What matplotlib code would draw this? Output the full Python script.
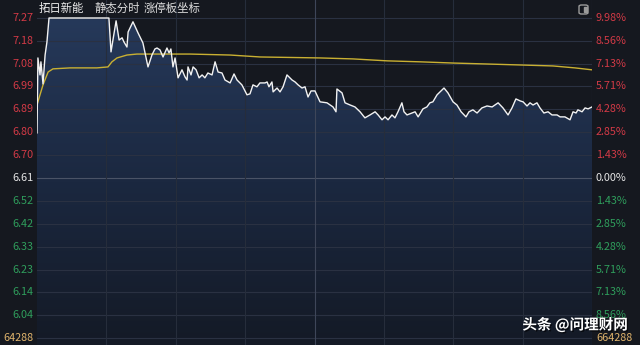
import matplotlib
matplotlib.use("Agg")
import matplotlib.pyplot as plt
import numpy as np
from matplotlib.patches import FancyBboxPatch, Rectangle
from matplotlib.colors import LinearSegmentedColormap
import matplotlib.patheffects as pe

plt.rcParams['font.family'] = ['Noto Sans CJK SC', 'DejaVu Sans']

# ---------------- data ----------------
stock_name = "拓日新能"
title_parts = ["静态分时", "涨停板坐标"]
pre_close = 6.61
volume_label_left = "64288"
volume_label_right = "664288"

left_labels = ["7.27", "7.18", "7.08", "6.99", "6.89", "6.80", "6.70", "6.61",
               "6.52", "6.42", "6.33", "6.23", "6.14", "6.04"]
pct_values = [9.98, 8.56, 7.13, 5.71, 4.28, 2.85, 1.43, 0.00,
              -1.43, -2.85, -4.28, -5.71, -7.13, -8.56]
right_labels = ["9.98%", "8.56%", "7.13%", "5.71%", "4.28%", "2.85%", "1.43%", "0.00%",
                "1.43%", "2.85%", "4.28%", "5.71%", "7.13%", "8.56%"]

# minute from open (0..240) and price
price_min = [0.0, 0.4, 1.3, 1.7, 2.6, 3.5, 4.3, 5.2, 31.1, 32.0,
             34.2, 35.5, 36.8, 37.6, 38.9, 39.4, 41.5, 43.7, 45.8, 48.0,
             49.7, 51.0, 51.9, 53.2, 54.5, 56.2, 57.1, 57.9, 58.8, 59.7,
             61.0, 62.7, 64.0, 64.9, 65.3, 66.6, 67.5, 68.8, 70.1, 71.4,
             72.6, 73.9, 75.7, 77.0, 78.3, 80.0, 81.3, 83.5, 85.2, 86.5,
             88.6, 90.8, 92.1, 93.4, 95.1, 96.4, 98.6, 99.5, 100.3, 101.6,
             102.1, 103.8, 105.1, 106.4, 108.1, 110.3, 111.6, 112.9, 114.6, 115.9,
             117.2, 118.5, 120.2, 122.4, 125.4, 128.0, 129.3, 129.7, 131.9, 133.2,
             135.4, 137.5, 139.7, 141.8, 144.0, 146.2, 147.5, 149.2, 150.5, 151.8,
             153.5, 154.8, 156.1, 157.8, 158.7, 160.0, 162.2, 163.5, 164.8, 166.9,
             168.6, 169.9, 171.2, 173.0, 174.3, 176.0, 177.7, 179.9, 181.6, 183.4,
             185.5, 186.8, 188.5, 190.3, 192.4, 194.6, 196.8, 199.4, 201.5, 203.7,
             205.4, 207.1, 208.9, 210.2, 211.9, 213.2, 214.5, 216.2, 217.5, 219.2,
             221.0, 222.7, 224.9, 226.2, 228.3, 230.5, 231.8, 233.1, 233.9, 235.7,
             237.0, 238.3, 240.0]
price = [6.796, 7.105, 7.035, 7.089, 6.998, 7.117, 7.171, 7.270, 7.270, 7.130,
         7.258, 7.179, 7.188, 7.171, 7.150, 7.212, 7.254, 7.208, 7.167, 7.068,
         7.117, 7.142, 7.146, 7.138, 7.109, 7.146, 7.126, 7.142, 7.068, 7.105,
         7.023, 7.056, 7.027, 7.014, 7.068, 7.035, 7.068, 7.056, 7.023, 7.035,
         7.023, 7.043, 7.035, 7.089, 7.047, 7.043, 7.014, 7.002, 7.039, 7.014,
         6.994, 6.953, 6.957, 6.994, 6.986, 7.002, 7.002, 7.006, 6.986, 7.006,
         6.965, 6.981, 6.965, 6.986, 7.035, 7.014, 7.006, 6.994, 6.981, 6.986,
         6.944, 6.969, 6.969, 6.924, 6.920, 6.903, 6.883, 6.977, 6.961, 6.920,
         6.911, 6.903, 6.883, 6.858, 6.870, 6.883, 6.870, 6.850, 6.862, 6.850,
         6.870, 6.858, 6.883, 6.920, 6.883, 6.870, 6.878, 6.883, 6.862, 6.895,
         6.903, 6.920, 6.924, 6.953, 6.965, 6.981, 6.961, 6.924, 6.911, 6.883,
         6.862, 6.883, 6.891, 6.878, 6.899, 6.907, 6.903, 6.920, 6.899, 6.870,
         6.899, 6.936, 6.928, 6.924, 6.907, 6.920, 6.911, 6.920, 6.899, 6.878,
         6.883, 6.870, 6.870, 6.862, 6.862, 6.850, 6.883, 6.878, 6.891, 6.883,
         6.899, 6.895, 6.903]
avg_min = [0.0, 1.3, 2.6, 4.8, 6.9, 14.3, 25.9, 30.7, 32.4, 34.6, 38.9, 43.2, 54.5,
           66.2, 83.5, 96.5, 122.4, 136.6, 151.4, 165.6, 179.9, 194.6, 208.9, 223.1,
           232.6, 240.0]
avg_price = [6.911, 6.953, 6.994, 7.047, 7.060, 7.064, 7.064, 7.068, 7.089, 7.105,
             7.117, 7.121, 7.121, 7.121, 7.117, 7.109, 7.105, 7.101, 7.093, 7.089,
             7.084, 7.080, 7.076, 7.072, 7.064, 7.056]

# ---------------- figure ----------------
W, H = 640, 345
fig = plt.figure(figsize=(W / 100, H / 100), dpi=100)
fig.patch.set_facecolor('#15181f')

x0_px, x1_px = 37, 592
top_px, limit_px, base_px = 0, 18, 178
limit_price = pre_close * (1 + pct_values[0] / 100)
ppx = (limit_price - pre_close) / (base_px - limit_px)  # price per pixel
y_top = limit_price + (limit_px - top_px) * ppx
y_bot = limit_price - (H - limit_px) * ppx

ax = fig.add_axes([x0_px / W, 0, (x1_px - x0_px) / W, 1])
ax.set_facecolor('#171c26')
ax.set_xlim(0, 240)
ax.set_ylim(y_bot, y_top)
ax.axis('off')

pm = np.array(price_min)
pr = np.array(price)
pr_clip = np.minimum(pr, limit_price)

# gradient fill under price line
poly = ax.fill_between(pm, pr_clip, y_bot, color='none', lw=0)
grad = np.linspace(0, 1, 256).reshape(-1, 1)
cmap = LinearSegmentedColormap.from_list('g', ['#141a26', '#1b2840', '#26395a'])
img = ax.imshow(grad, extent=[0, 240, y_bot, limit_price], origin='lower',
                aspect='auto', cmap=cmap, zorder=1)
path = poly.get_paths()[0]
img.set_clip_path(path, transform=ax.transData)

# grid lines
tick_prices = [pre_close * (1 + p / 100) for p in pct_values]
vol_y = pre_close * (1 - 7 * 1.4257 / 100)
for tp in tick_prices + [vol_y]:
    c = '#4a5366' if abs(tp - pre_close) < 1e-6 else '#2a3142'
    ax.axhline(tp, color=c, lw=0.8, zorder=2)
for i in range(1, 8):
    c = '#3e4659' if i == 4 else '#262d3b'
    ax.axvline(i * 30, color=c, lw=0.8, zorder=2)
ax.axvline(240, color='#2f3646', lw=0.8, zorder=2)

ax.plot(pm, pr_clip, color='#f2f2f2', lw=1.0, zorder=4)
ax.plot(avg_min, avg_price, color='#c9b032', lw=1.0, zorder=3)

# left and right labels
tr_left = ax.get_yaxis_transform()
for lab, tp, pv in zip(left_labels, tick_prices, pct_values):
    col = '#d23a46' if pv > 0 else ('#e6e6e6' if pv == 0 else '#2f9e5c')
    ax.text(-0.006, tp, lab, transform=tr_left, ha='right', va='center',
            fontsize=7.8, color=col, clip_on=False)
for lab, tp, pv in zip(right_labels, tick_prices, pct_values):
    col = '#d23a46' if pv > 0 else ('#e6e6e6' if pv == 0 else '#2f9e5c')
    ax.text(1.007, tp, lab, transform=tr_left, ha='left', va='center',
            fontsize=7.8, color=col, clip_on=False)
ax.text(-0.006, vol_y, volume_label_left, transform=tr_left, ha='right', va='center',
        fontsize=7.8, color='#e0b46c', clip_on=False)
ax.text(1.007, vol_y, volume_label_right, transform=tr_left, ha='left', va='center',
        fontsize=7.8, color='#e0b46c', clip_on=False)

# title
fig.text(39 / W, 1 - 8 / H, stock_name, ha='left', va='center', fontsize=8.2, color='#eeeeee')
fig.text(95 / W, 1 - 8 / H, title_parts[0], ha='left', va='center', fontsize=8.2, color='#dddddd')
fig.text(144 / W, 1 - 8 / H, title_parts[1], ha='left', va='center', fontsize=8.2, color='#dddddd')

# small icon top right
icon = FancyBboxPatch((579 / W, 1 - 14 / H), 9 / W, 9 / H,
                      boxstyle='round,pad=0.0,rounding_size=0.004',
                      transform=fig.transFigure, fill=False, ec='#9a9a9a', lw=1.0)
fig.patches.append(icon)
fig.patches.append(Rectangle((584 / W, 1 - 12 / H), 3 / W, 5 / H, transform=fig.transFigure,
                             color='#9a9a9a'))

# watermark
fig.text(628 / W, 1 - 325 / H, "头条 @问理财网", ha='right', va='center', fontsize=10.5,
         color='white', fontweight='bold',
         path_effects=[pe.withSimplePatchShadow(offset=(1, -1), shadow_rgbFace='black', alpha=0.6)])

fig.savefig('out.png', dpi=100, facecolor=fig.get_facecolor())
